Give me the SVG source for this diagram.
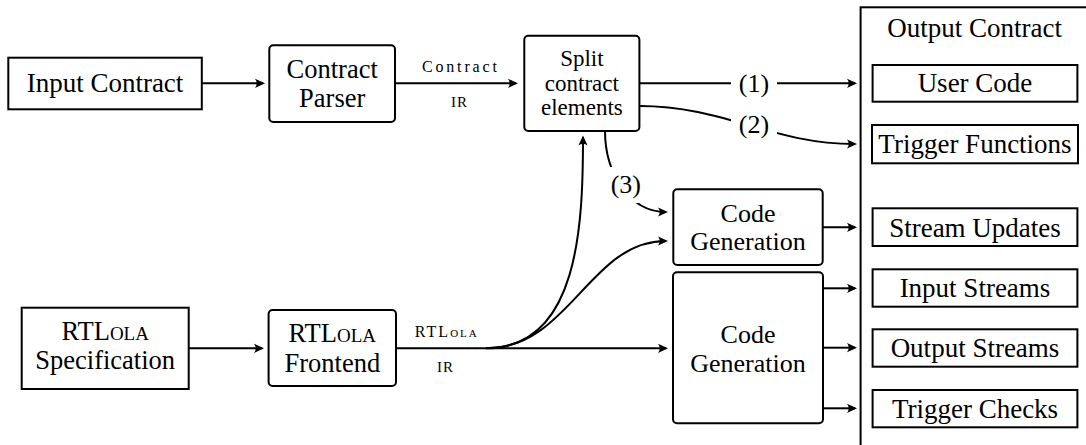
<svg xmlns="http://www.w3.org/2000/svg" width="1086" height="445" viewBox="0 0 1086 445">
<style>
.rkbox{fill:#fff;stroke:#000;stroke-width:2}
.rklbl{fill:#000;text-anchor:middle;font-family:"Liberation Serif",serif}
.rksc{font-variant:small-caps}
.rkline{fill:none;stroke:#000;stroke-width:2}
.rkbg{fill:#fff;stroke:none}
</style>
<defs>
<marker id="ah" markerUnits="userSpaceOnUse" markerWidth="14" markerHeight="12" refX="-2" refY="0" orient="auto" overflow="visible">
<path d="M0,0 L-10,-4.6 Q-6.5,0 -10,4.6 Z" fill="#000"/>
</marker>
</defs>
<g id="output-contract">
<rect class="rkbox" x="860.6" y="7.3" width="300" height="500"/>
<text class="rklbl" font-size="27" x="974.6" y="36.7">Output Contract</text>
</g>
<g id="user-code"><rect class="rkbox" x="872.6" y="65" width="204.8" height="36.7"/><text class="rklbl" font-size="27" x="975" y="92.3">User Code</text></g>
<g id="trigger-functions"><rect class="rkbox" x="872" y="125" width="206" height="38.3"/><text class="rklbl" font-size="27" x="975" y="153">Trigger Functions</text></g>
<g id="stream-updates"><rect class="rkbox" x="872.6" y="208.3" width="204.8" height="37.7"/><text class="rklbl" font-size="27" x="975" y="236.5">Stream Updates</text></g>
<g id="input-streams"><rect class="rkbox" x="872.6" y="269.3" width="204.8" height="37.4"/><text class="rklbl" font-size="27" x="975" y="297.3">Input Streams</text></g>
<g id="output-streams"><rect class="rkbox" x="872.6" y="329.3" width="204.8" height="37.4"/><text class="rklbl" font-size="27" x="975" y="357.3">Output Streams</text></g>
<g id="trigger-checks"><rect class="rkbox" x="872.6" y="390" width="204.8" height="37.3"/><text class="rklbl" font-size="27" x="975" y="418">Trigger Checks</text></g>
<g id="input-contract"><rect class="rkbox" x="8.3" y="57.7" width="193.5" height="51.6"/><text class="rklbl" font-size="27" x="105" y="92.3">Input Contract</text></g>
<g id="contract-parser"><rect class="rkbox" x="269.3" y="45.3" width="125.7" height="76.7" rx="4"/><text class="rklbl" font-size="26.5" x="332.2" y="78.3">Contract</text><text class="rklbl" font-size="26.5" x="332.2" y="107.3">Parser</text></g>
<g id="split"><rect class="rkbox" x="524.3" y="35.7" width="115.1" height="95.3" rx="4"/><text class="rklbl" font-size="23" x="581.9" y="66">Split</text><text class="rklbl" font-size="23" x="581.9" y="90.7">contract</text><text class="rklbl" font-size="23" x="581.9" y="115.4">elements</text></g>
<g id="codegen-top"><rect class="rkbox" x="673.3" y="189.3" width="149.4" height="75.7" rx="4"/><text class="rklbl" font-size="26" x="748" y="221.7">Code</text><text class="rklbl" font-size="26" x="748" y="250">Generation</text></g>
<g id="codegen-bottom"><rect class="rkbox" x="673" y="272.3" width="150" height="151" rx="4"/><text class="rklbl" font-size="26" x="748" y="342.7">Code</text><text class="rklbl" font-size="26" x="748" y="371.7">Generation</text></g>
<g id="rtlola-spec"><rect class="rkbox" x="21.7" y="307.7" width="167" height="81.3"/><text class="rklbl" font-size="26.5" x="105.2" y="340">RTL<tspan class="rksc">ola</tspan></text><text class="rklbl" font-size="26.5" x="105.2" y="369">Specification</text></g>
<g id="rtlola-frontend"><rect class="rkbox" x="268.6" y="310" width="127.4" height="76" rx="4"/><text class="rklbl" font-size="26.5" x="332.3" y="342.3">RTL<tspan class="rksc">ola</tspan></text><text class="rklbl" font-size="26.5" x="332.3" y="371.7">Frontend</text></g>
<g id="connectors">
<path class="rkline" marker-end="url(#ah)" d="M202,83.3 H263"/>
<path class="rkline" marker-end="url(#ah)" d="M395,83.3 H516"/>
<path class="rkline" marker-end="url(#ah)" d="M639.4,83.3 H855"/>
<path class="rkline" marker-end="url(#ah)" d="M639.4,106 C725,106 771,144 855,144"/>
<path class="rkline" marker-end="url(#ah)" d="M605,131 C605,171 628,212 666,212"/>
<path class="rkline" marker-end="url(#ah)" d="M188.7,348.3 H262"/>
<path class="rkline" marker-end="url(#ah)" d="M396,348.3 H666"/>
<path class="rkline" marker-end="url(#ah)" d="M486,348.3 C579,348.3 583,224 583,137.5"/>
<path class="rkline" marker-end="url(#ah)" d="M486,348.3 C570,348.3 589,241 666,241"/>
<path class="rkline" marker-end="url(#ah)" d="M822.7,227.3 H855"/>
<path class="rkline" marker-end="url(#ah)" d="M823,288.3 H855"/>
<path class="rkline" marker-end="url(#ah)" d="M823,347.7 H855"/>
<path class="rkline" marker-end="url(#ah)" d="M823,408.3 H855"/>
<rect class="rkbg" x="731" y="65.3" width="46" height="36"/>
<text class="rklbl" font-size="26" x="754" y="91.5">(1)</text>
<rect class="rkbg" x="731" y="107" width="46" height="36"/>
<text class="rklbl" font-size="26" x="754" y="132.5">(2)</text>
<rect class="rkbg" x="603" y="167" width="46" height="36"/>
<text class="rklbl" font-size="26" x="625.8" y="192.5">(3)</text>
<text class="rklbl" font-size="16" x="459.4" y="72.3" textLength="75" lengthAdjust="spacing">Contract</text>
<text class="rklbl" font-size="15" x="459.4" y="106.7" letter-spacing="1">IR</text>
<text class="rklbl" font-size="16" x="445.8" y="336.8" textLength="62" lengthAdjust="spacing">RTL<tspan class="rksc">ola</tspan></text>
<text class="rklbl" font-size="15" x="445.5" y="371.7" letter-spacing="1">IR</text>
</g>
</svg>
